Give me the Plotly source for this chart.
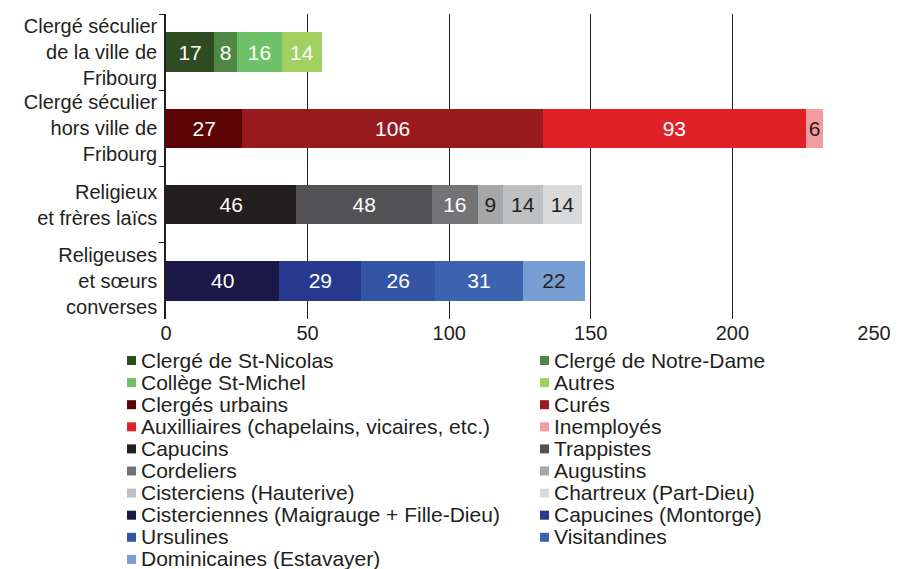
import plotly.graph_objects as go

# Categories (top to bottom)
categories = [
    "Clergé séculier<br>de la ville de<br>Fribourg",
    "Clergé séculier<br>hors ville de<br>Fribourg",
    "Religieux<br>et frères laïcs",
    "Religeuses<br>et sœurs<br>converses",
]

# Series, each one belongs to a single category
series_names = [
    "Clergé de St-Nicolas", "Clergé de Notre-Dame", "Collège St-Michel", "Autres",
    "Clergés urbains", "Curés", "Auxilliaires (chapelains, vicaires, etc.)", "Inemployés",
    "Capucins", "Trappistes", "Cordeliers", "Augustins",
    "Cisterciens (Hauterive)", "Chartreux (Part-Dieu)",
    "Cisterciennes (Maigrauge + Fille-Dieu)", "Capucines (Montorge)",
    "Ursulines", "Visitandines", "Dominicaines (Estavayer)",
]
series_category = [0, 0, 0, 0,
                   1, 1, 1, 1,
                   2, 2, 2, 2, 2, 2,
                   3, 3, 3, 3, 3]
series_values = [17, 8, 16, 14,
                 27, 106, 93, 6,
                 46, 48, 16, 9, 14, 14,
                 40, 29, 26, 31, 22]

colors = [
    "#2F4B22", "#4E8843", "#6EC166", "#A0D05F",
    "#5C0405", "#981A1F", "#E02127", "#F49CA0",
    "#231F20", "#525254", "#737376", "#A6A7A9", "#BFC0C2", "#D9DADB",
    "#1B1747", "#273A8F", "#3454A5", "#3C63AF", "#789FD4",
]
dark_text = {"Inemployés", "Augustins", "Cisterciens (Hauterive)",
             "Chartreux (Part-Dieu)", "Dominicaines (Estavayer)"}

TEXT = "#231F20"
FONT = "Liberation Sans, Arial, sans-serif"

# the page body adds an 8px offset, so the figure is 8px smaller than the window
OFF = 8
W, H = 890, 561
L, R, T, B = 158, 24, 6, 250
PW, PH = W - L - R, H - T - B


def px_x(x):
    # window pixel -> paper coordinate
    return (x - OFF - L) / PW


def px_y(y):
    return (H - B - (y - OFF)) / PH


fig = go.Figure()
for name, cat, val, col in zip(series_names, series_category, series_values, colors):
    fig.add_trace(go.Bar(
        name=name,
        y=[categories[cat]],
        x=[val],
        orientation="h",
        marker=dict(color=col, line=dict(width=0)),
        text=[str(val)],
        textposition="inside",
        insidetextanchor="middle",
        textangle=0,
        constraintext="none",
        cliponaxis=False,
        textfont=dict(size=21, family=FONT,
                      color=TEXT if name in dark_text else "white"),
        showlegend=False,
    ))

# legend drawn as two columns of squares + labels (reading order left->right)
row0, row_step = 360, 22.1
for i, (name, col) in enumerate(zip(series_names, colors)):
    row, column = divmod(i, 2)
    cy = row0 + row * row_step
    sq_x = 127 if column == 0 else 540
    fig.add_shape(
        type="rect", xref="paper", yref="paper",
        x0=px_x(sq_x), x1=px_x(sq_x + 9),
        y0=px_y(cy + 5), y1=px_y(cy - 4),
        fillcolor=col, line=dict(width=0),
    )
    fig.add_annotation(
        xref="paper", yref="paper",
        x=px_x(sq_x + 12), y=px_y(cy),
        xanchor="left", yanchor="middle",
        text=name, showarrow=False,
        font=dict(size=21, family=FONT, color=TEXT),
    )

fig.update_layout(
    width=W, height=H,
    barmode="stack",
    bargap=0.485,
    plot_bgcolor="white",
    paper_bgcolor="white",
    font=dict(family=FONT, size=20, color=TEXT),
    margin=dict(l=L, r=R, t=T, b=B, autoexpand=False),
    showlegend=False,
    xaxis=dict(
        range=[0, 250],
        tickvals=[0, 50, 100, 150, 200, 250],
        showgrid=True, gridcolor=TEXT, gridwidth=1,
        zeroline=False, showline=False,
        ticks="",
        tickfont=dict(size=20, family=FONT, color=TEXT),
    ),
    yaxis=dict(
        categoryorder="array", categoryarray=categories,
        autorange="reversed",
        showline=True, linecolor=TEXT, linewidth=1.5,
        ticks="outside", tickson="boundaries", ticklen=5, tickcolor=TEXT,
        tickfont=dict(size=20, family=FONT, color=TEXT),
        ticklabelstandoff=3,
    ),
)

fig.write_html("out.html")
